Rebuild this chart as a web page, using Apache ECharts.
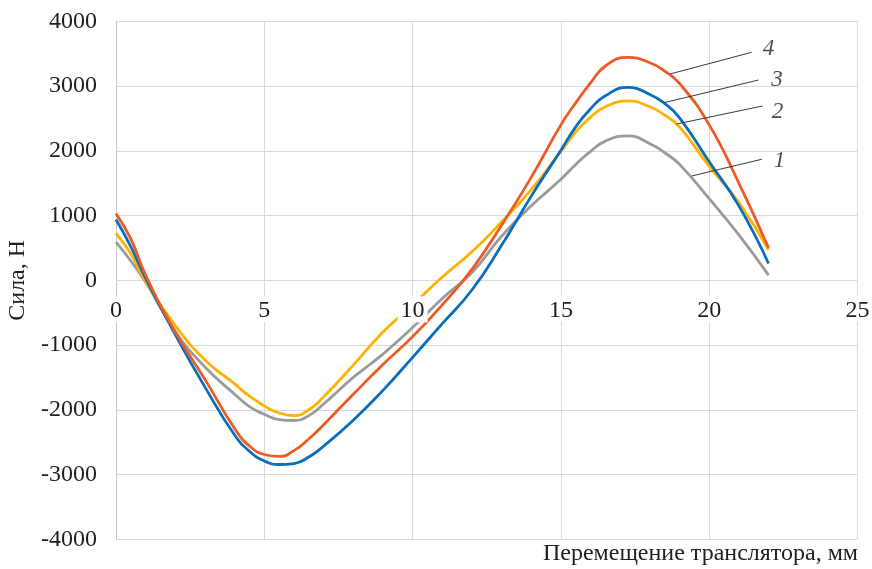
<!DOCTYPE html>
<html>
<head>
<meta charset="utf-8">
<script src="https://cdn.jsdelivr.net/npm/echarts@6/dist/echarts.min.js"></script>
<style>
  html, body { margin: 0; padding: 0; background: #fff; }
  #chart { width: 872px; height: 569px; }
</style>
</head>
<body>
<div id="chart"></div>
<script>
// Displacement of the translator, mm
const displacement = [0, 0.5, 1, 2, 3, 4, 4.5, 5, 5.5, 6, 6.5, 7, 8, 9, 10, 11, 12, 13, 14, 15, 15.5, 16, 16.5, 17.25, 18, 18.5, 19, 20, 21, 22];

// Force, N — curves 1..4
const force1 = [590, 300, -30, -790, -1340, -1760, -1950, -2070, -2150, -2165, -2090, -1910, -1500, -1140, -730, -280, 120, 680, 1150, 1560, 1790, 1990, 2150, 2230, 2110, 1970, 1790, 1260, 700, 80];
const force2 = [725, 410, -20, -700, -1230, -1600, -1790, -1940, -2050, -2090, -2000, -1800, -1310, -800, -380, 50, 440, 900, 1400, 1990, 2290, 2520, 2680, 2770, 2680, 2550, 2370, 1760, 1200, 470];
const force3 = [940, 520, 30, -840, -1650, -2390, -2640, -2790, -2845, -2830, -2730, -2560, -2160, -1700, -1190, -670, -150, 540, 1300, 2010, 2370, 2650, 2850, 2980, 2870, 2730, 2510, 1830, 1150, 260];
const force4 = [1030, 640, 80, -800, -1530, -2290, -2560, -2690, -2720, -2630, -2450, -2230, -1760, -1300, -870, -380, 170, 850, 1590, 2400, 2740, 3050, 3310, 3444, 3360, 3230, 3040, 2400, 1500, 500];

const curveNames = ['1', '2', '3', '4'];
const curveColors = ['#9b9b9b', '#ffb300', '#0a6ebd', '#ee5a24'];

// Leader lines from each curve to its number: [start, end] in data units
const leaderStart = [[19.41, 1611], [18.90, 2414], [18.48, 2743], [18.68, 3186]];
const leaderEnd = [[21.77, 1869], [21.80, 2692], [21.66, 3093], [21.43, 3521]];
const tagAnchor = [[22.37, 1842], [22.30, 2600], [22.29, 3091], [22.00, 3580]];

// Axis ticks
const xMin = 0, xMax = 25, xStep = 5;
const yMin = -4000, yMax = 4000, yStep = 1000;

// Plot frame
const chartHeight = 569;
const gridBox = { left: 116, right: 14.5, top: 21.3, bottom: 29.7 };
const plotHeight = chartHeight - gridBox.top - gridBox.bottom;
// the tick labels of the x axis run along y = 0
const zeroLift = plotHeight * (0 - yMin) / (yMax - yMin);

const serif = 'Liberation Serif';
const textColor = '#1f1f1f';
const gridColor = '#d9d9d9';

const forces = [force1, force2, force3, force4];

const curveSeries = forces.map((vals, i) => ({
  name: curveNames[i],
  type: 'line',
  xAxisIndex: 0,
  data: displacement.map((x, k) => [x, vals[k]]),
  smooth: 0.5,
  showSymbol: false,
  symbol: 'none',
  lineStyle: { color: curveColors[i], width: 2.8 },
  z: 3,
  silent: true
}));

const leaderSeries = leaderStart.map((s, i) => ({
  type: 'line',
  xAxisIndex: 0,
  data: [s, leaderEnd[i]],
  showSymbol: false,
  symbol: 'none',
  lineStyle: { color: '#3a3a3a', width: 1 },
  z: 4,
  silent: true
}));

const tagSeries = {
  type: 'scatter',
  xAxisIndex: 0,
  data: tagAnchor.map((p, i) => ({ value: p, name: curveNames[i] })),
  symbolSize: 0,
  silent: true,
  z: 5,
  label: {
    show: true,
    position: 'inside',
    formatter: p => p.name,
    fontFamily: serif,
    fontStyle: 'italic',
    fontSize: 23,
    color: textColor
  }
};

const chart = echarts.init(document.getElementById('chart'), null, { renderer: 'canvas' });

chart.setOption({
  animation: false,
  backgroundColor: '#fff',
  grid: Object.assign({ containLabel: false, outerBoundsMode: 'none' }, gridBox),
  xAxis: [
    {
      // tick labels on the zero line, painted over the curves with a white box
      type: 'value',
      position: 'bottom',
      offset: -zeroLift,
      min: xMin, max: xMax, interval: xStep,
      z: 10,
      axisLine: { show: false, onZero: false },
      axisTick: { show: false },
      splitLine: { show: false },
      axisLabel: {
        fontFamily: serif, fontSize: 24, color: textColor,
        margin: 16,
        backgroundColor: '#fff',
        padding: [2, 3, 0, 3],
        formatter: v => String(v)
      }
    },
    {
      // vertical grid lines
      type: 'value',
      position: 'top',
      min: xMin, max: xMax, interval: xStep,
      axisLine: { show: false, onZero: false },
      axisTick: { show: false },
      axisLabel: { show: false },
      splitLine: { show: true, lineStyle: { color: gridColor, width: 1 } }
    }
  ],
  yAxis: {
    type: 'value',
    min: yMin, max: yMax, interval: yStep,
    name: 'Сила, Н',
    nameLocation: 'middle',
    nameGap: 70,
    nameRotate: 90,
    nameTextStyle: { fontFamily: serif, fontSize: 24, color: textColor },
    axisLine: { show: true, onZero: false, lineStyle: { color: '#c8c8c8', width: 1 } },
    axisTick: { show: false },
    splitLine: { show: true, lineStyle: { color: gridColor, width: 1 } },
    axisLabel: {
      fontFamily: serif, fontSize: 24, color: textColor,
      margin: 19,
      formatter: v => String(v)
    }
  },
  graphic: [{
    type: 'text',
    right: 14,
    bottom: 3,
    style: {
      text: 'Перемещение транслятора, мм',
      fontFamily: serif,
      fontSize: 24,
      fill: textColor
    }
  }],
  series: [...curveSeries, ...leaderSeries, tagSeries]
});
</script>
</body>
</html>
